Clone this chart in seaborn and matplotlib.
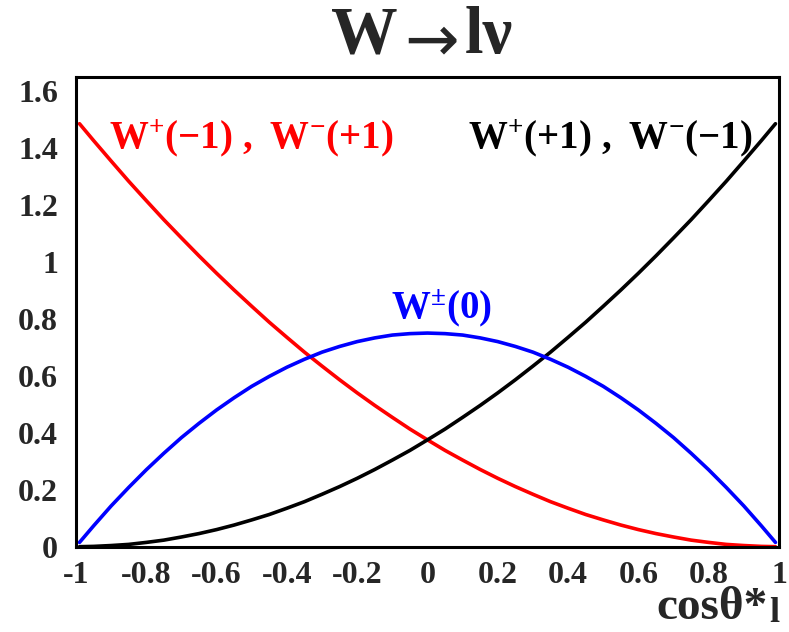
import matplotlib
matplotlib.use("Agg")
import matplotlib.pyplot as plt
import seaborn as sns
import pandas as pd

# Angular distributions of the charged lepton in W -> l nu for each W helicity
cos_theta = [-0.99, -0.95, -0.9, -0.85, -0.8, -0.75, -0.7, -0.65, -0.6, -0.55, -0.5,
             -0.45, -0.4, -0.35, -0.3, -0.25, -0.2, -0.15, -0.1, -0.05, 0.0,
             0.05, 0.1, 0.15, 0.2, 0.25, 0.3, 0.35, 0.4, 0.45, 0.5,
             0.55, 0.6, 0.65, 0.7, 0.75, 0.8, 0.85, 0.9, 0.95, 0.99]
left_handed = [1.485, 1.426, 1.354, 1.283, 1.215, 1.148, 1.084, 1.021, 0.960, 0.901, 0.844,
               0.788, 0.735, 0.683, 0.634, 0.586, 0.540, 0.496, 0.454, 0.413, 0.375,
               0.338, 0.304, 0.271, 0.240, 0.211, 0.184, 0.158, 0.135, 0.113, 0.094,
               0.076, 0.060, 0.046, 0.034, 0.023, 0.015, 0.008, 0.004, 0.001, 0.000]
right_handed = [0.000, 0.001, 0.004, 0.008, 0.015, 0.023, 0.034, 0.046, 0.060, 0.076, 0.094,
                0.113, 0.135, 0.158, 0.184, 0.211, 0.240, 0.271, 0.304, 0.338, 0.375,
                0.413, 0.454, 0.496, 0.540, 0.586, 0.634, 0.683, 0.735, 0.788, 0.844,
                0.901, 0.960, 1.021, 1.084, 1.148, 1.215, 1.283, 1.354, 1.426, 1.485]
longitudinal = [0.015, 0.073, 0.143, 0.208, 0.270, 0.328, 0.383, 0.433, 0.480, 0.523, 0.563,
                0.598, 0.630, 0.658, 0.683, 0.703, 0.720, 0.733, 0.743, 0.748, 0.750,
                0.748, 0.743, 0.733, 0.720, 0.703, 0.683, 0.658, 0.630, 0.598, 0.563,
                0.523, 0.480, 0.433, 0.383, 0.328, 0.270, 0.208, 0.143, 0.073, 0.015]

labels = [r"$\mathrm{W^{+}(-1)\ ,\ W^{-}(+1)}$",
          r"$\mathrm{W^{+}(+1)\ ,\ W^{-}(-1)}$",
          r"$\mathrm{W^{\pm}(0)}$"]
x_ticks = [-1, -0.8, -0.6, -0.4, -0.2, 0, 0.2, 0.4, 0.6, 0.8, 1]
x_tick_labels = ["-1", "-0.8", "-0.6", "-0.4", "-0.2", "0", "0.2", "0.4", "0.6", "0.8", "1"]
y_ticks = [0, 0.2, 0.4, 0.6, 0.8, 1.0, 1.2, 1.4, 1.6]
y_tick_labels = ["0", "0.2", "0.4", "0.6", "0.8", "1", "1.2", "1.4", "1.6"]

sns.set_style("white")
plt.rcParams["font.family"] = ["Liberation Serif", "DejaVu Serif"]
plt.rcParams["font.weight"] = "bold"
plt.rcParams["mathtext.fontset"] = "custom"
for key in ("rm", "bf", "it", "sf"):
    plt.rcParams[f"mathtext.{key}"] = "Liberation Serif:bold"

df = pd.DataFrame({
    "cos": cos_theta * 3,
    "value": left_handed + right_handed + longitudinal,
    "curve": ["left"] * len(cos_theta) + ["right"] * len(cos_theta) + ["long"] * len(cos_theta),
})
palette = {"left": "#ff0000", "right": "#000000", "long": "#0000ff"}

fig = plt.figure(figsize=(7.89, 6.32), dpi=100)
ax = fig.add_axes([0.0963, 0.135, 0.8910, 0.7436])

sns.lineplot(data=df, x="cos", y="value", hue="curve", palette=palette,
             estimator=None, sort=False, linewidth=2.6, legend=False, ax=ax)
for line in ax.get_lines():
    line.set_solid_joinstyle("round")

ax.set_xlim(-1, 1)
ax.set_ylim(0, 1.65)
ax.set_xticks(x_ticks)
ax.set_xticklabels(x_tick_labels)
ax.set_yticks(y_ticks)
ax.set_yticklabels(y_tick_labels)
ax.set_xticks([v / 100 for v in range(-95, 100, 5)], minor=True)
ax.set_yticks([v / 100 for v in range(5, 165, 5)], minor=True)
ax.tick_params(axis="both", which="major", direction="in", length=12, width=1.0,
               labelsize=23, top=False, right=False)
ax.tick_params(axis="both", which="minor", direction="in", length=6, width=1.0,
               top=False, right=False)
ax.tick_params(axis="y", which="major", pad=13)
ax.tick_params(axis="x", which="major", pad=10)
for lab in ax.get_xticklabels() + ax.get_yticklabels():
    lab.set_fontweight("bold")
for spine in ax.spines.values():
    spine.set_visible(True)
    spine.set_color("black")
    spine.set_linewidth(2.2)
ax.set_xlabel("")
ax.set_ylabel("")

ax.text(-0.905, 1.40, labels[0], color="#ff0000", fontsize=28, ha="left", va="baseline")
ax.text(0.925, 1.40, labels[1], color="#000000", fontsize=28, ha="right", va="baseline")
ax.text(0.04, 0.80, labels[2], color="#0000ff", fontsize=28, ha="center", va="baseline")

# Title "W -> l nu" set in three pieces so the arrow can be long and thin
title_y = 1 - 53 / 632
fig.text(398 / 789, title_y, "W", fontsize=48, fontweight="bold", ha="right", va="baseline")
fig.text(432 / 789, 1 - 60 / 632, "→", fontsize=47, fontweight="normal",
         family=["DejaVu Sans"], ha="center", va="baseline")
fig.text(465 / 789, title_y, "lν", fontsize=48, fontweight="bold", ha="left", va="baseline")

fig.text(0.973, 0.020, "cosθ*", fontsize=34, fontweight="bold", ha="right", va="baseline")
fig.text(0.982, 0.003, "l", fontsize=26, fontweight="bold", ha="center", va="bottom")

fig.savefig("out.png", dpi=100)
